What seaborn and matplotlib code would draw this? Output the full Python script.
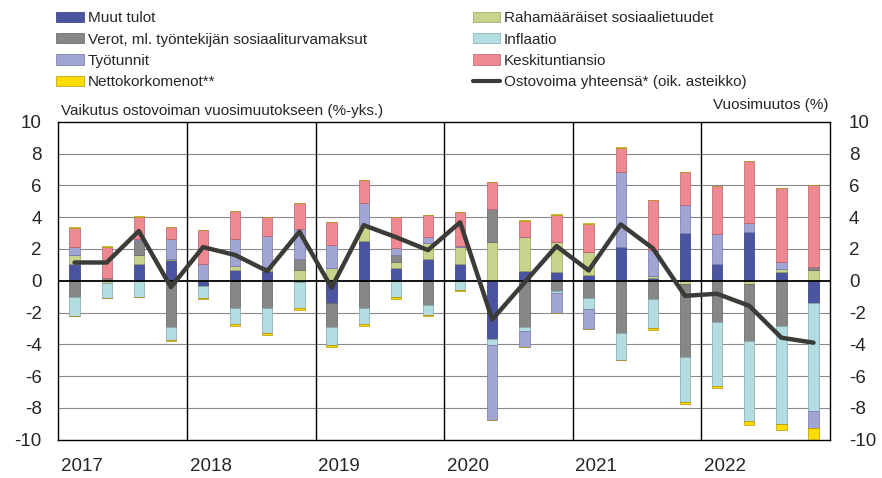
import numpy as np
import pandas as pd
import matplotlib
matplotlib.use("Agg")
import matplotlib.pyplot as plt
from matplotlib.patches import Patch
from matplotlib.lines import Line2D
import seaborn as sns

# quarters 2017Q1 ... 2022Q4
YEARS = ["2017", "2018", "2019", "2020", "2021", "2022"]
QUARTERS = [f"{y}Q{q}" for y in YEARS for q in range(1, 5)]

# contributions, %-points (signed)
muut_tulot = [1.05, 0.0, 1.05, 1.3, -0.32, 0.67, 0.63, -0.07,
              -1.39, 2.5, 0.8, 1.34, 1.05, -3.7, 0.63, 0.57,
              0.34, 2.14, 0.17, 2.98, 1.05, 3.05, 0.53, -1.43]
rahamaaraiset = [0.6, -0.12, 0.6, 0.1, 0.0, 0.27, 0.23, 0.67,
                 0.78, 1.0, 0.4, 1.05, 1.05, 2.46, 2.14, 1.9,
                 1.45, 0.0, 0.15, -0.23, 0.0, -0.23, 0.23, 0.67]
verot = [-1.0, 0.2, 0.9, -2.9, 0.0, -1.7, -1.7, 0.67,
         -1.53, -1.7, 0.42, -1.5, 0.0, 2.04, -2.9, -0.63,
         -1.07, -3.32, -1.13, -4.56, -2.58, -3.55, -2.82, 0.21]
inflaatio = [-1.2, -0.98, -1.05, -0.85, -0.75, -1.05, -1.58, -1.65,
             -1.13, -1.05, -1.05, -0.67, -0.6, -0.32, -0.27, -0.17,
             -0.74, -1.64, -1.87, -2.84, -4.05, -5.06, -6.18, -6.79]
tyotunnit = [0.45, 0.0, 0.05, 1.26, 1.03, 1.72, 1.93, 1.93,
             1.47, 1.37, 0.42, 0.38, 0.1, -4.73, -0.99, -1.26,
             -1.2, 4.68, 1.6, 1.79, 1.87, 0.61, 0.4, -1.03]
keskituntiansio = [1.2, 1.95, 1.4, 0.7, 2.17, 1.75, 1.24, 1.6,
                   1.47, 1.47, 1.95, 1.37, 2.1, 1.7, 1.0, 1.68,
                   1.76, 1.51, 3.15, 2.06, 3.05, 3.89, 4.66, 5.15]
nettokorkomenot = [0.07, 0.05, 0.07, -0.05, -0.05, -0.1, -0.12, -0.12,
                   -0.15, -0.12, -0.08, -0.04, -0.07, 0.0, 0.04, 0.06,
                   0.1, 0.1, -0.08, -0.12, -0.15, -0.25, -0.42, -0.69]
# total purchasing power, annual change % (right axis)
ostovoima = [1.15, 1.15, 3.13, -0.4, 2.12, 1.62, 0.61, 3.09,
             -0.44, 3.5, 2.75, 1.93, 3.68, -2.44, -0.12, 2.18,
             0.65, 3.55, 2.04, -0.95, -0.82, -1.58, -3.59, -3.9]

SERIES = [
    ("Muut tulot", muut_tulot, "#4a54a1", "#2f3878"),
    ("Rahamääräiset sosiaalietuudet", rahamaaraiset, "#c9d38b", "#98a05e"),
    ("Verot, ml. työntekijän sosiaaliturvamaksut", verot, "#878787", "#606060"),
    ("Inflaatio", inflaatio, "#b3dde1", "#7ea9ad"),
    ("Työtunnit", tyotunnit, "#a1a5d4", "#7277a8"),
    ("Keskituntiansio", keskituntiansio, "#ef8991", "#b8606a"),
    ("Nettokorkomenot**", nettokorkomenot, "#ffdc00", "#b09a10"),
]
LINE_LABEL = "Ostovoima yhteensä* (oik. asteikko)"
LINE_COLOR = "#3b3b37"

sns.set_theme(style="white")
plt.rcParams["font.family"] = ["Liberation Sans", "DejaVu Sans"]
plt.rcParams["axes.unicode_minus"] = False

fig = plt.figure(figsize=(8.82, 4.78), dpi=100)
ax = fig.add_axes([0.0663, 0.0805, 0.8743, 0.6643])

x = np.arange(len(QUARTERS))
pos_base = np.zeros(len(x))
neg_base = np.zeros(len(x))
for name, vals, fc, ec in SERIES:
    v = np.array(vals)
    p = np.where(v > 0, v, 0)
    n = np.where(v < 0, v, 0)
    ax.bar(x, p, width=0.32, bottom=pos_base, color=fc, edgecolor=ec,
           linewidth=0.5, zorder=3)
    ax.bar(x, n, width=0.32, bottom=neg_base, color=fc, edgecolor=ec,
           linewidth=0.5, zorder=3)
    pos_base += p
    neg_base += n

ax.set_xlim(-0.5, len(x) - 0.5)
ax.set_ylim(-10, 10)
ax.set_yticks(np.arange(-10, 11, 2))
for yv in np.arange(-8, 9, 2):
    if yv != 0:
        ax.axhline(yv, color="#8a8a8a", lw=0.8, zorder=1)
ax.axhline(0, color="black", lw=1.3, zorder=4)
for k in range(1, len(YEARS)):
    ax.axvline(4 * k - 0.5, color="black", lw=1.0, zorder=2)

ax.set_xticks([4 * k - 0.5 + 0.08 for k in range(len(YEARS))])
ax.set_xticklabels(YEARS, ha="left")
ax.tick_params(axis="x", length=0, pad=13, labelsize=13.5)
ax.tick_params(axis="y", length=0, pad=12, labelsize=13.5)
for s in ax.spines.values():
    s.set_color("black")
    s.set_linewidth(1.0)

ax2 = ax.twinx()
df = pd.DataFrame({"x": x, "y": ostovoima})
sns.lineplot(data=df, x="x", y="y", ax=ax2, color=LINE_COLOR, lw=3.2,
             zorder=5)
ax2.set_ylim(-10, 10)
ax2.set_yticks(np.arange(-10, 11, 2))
ax2.tick_params(axis="y", length=0, pad=14, labelsize=13.5)
ax2.set_ylabel("")
ax2.set_xlabel("")
ax.set_xlabel("")
for s in ax2.spines.values():
    s.set_visible(False)

ax.text(0.003, 1.012, "Vaikutus ostovoiman vuosimuutokseen (%-yks.)",
        transform=ax.transAxes, ha="left", va="bottom", fontsize=11)
ax.text(0.998, 1.03, "Vuosimuutos (%)", transform=ax.transAxes,
        ha="right", va="bottom", fontsize=11)

handles = [Patch(facecolor=fc, edgecolor=ec, lw=0.5)
           for _, _, fc, ec in SERIES]
handles.append(Line2D([0], [0], color=LINE_COLOR, lw=3))
labels = [s[0] for s in SERIES] + [LINE_LABEL]
left_idx = [0, 2, 4, 6]
right_idx = [1, 3, 5, 7]
common = dict(frameon=False, fontsize=11, borderpad=0, borderaxespad=0,
              handlelength=1.8, handleheight=0.65, handletextpad=0.25,
              labelspacing=0.47, loc="upper left")
leg1 = fig.legend([handles[i] for i in left_idx], [labels[i] for i in left_idx],
                  bbox_to_anchor=(0.064, 0.976), **common)
leg2 = fig.legend([handles[i] for i in right_idx], [labels[i] for i in right_idx],
                  bbox_to_anchor=(0.536, 0.976), **common)

fig.savefig("out.png", dpi=100)
